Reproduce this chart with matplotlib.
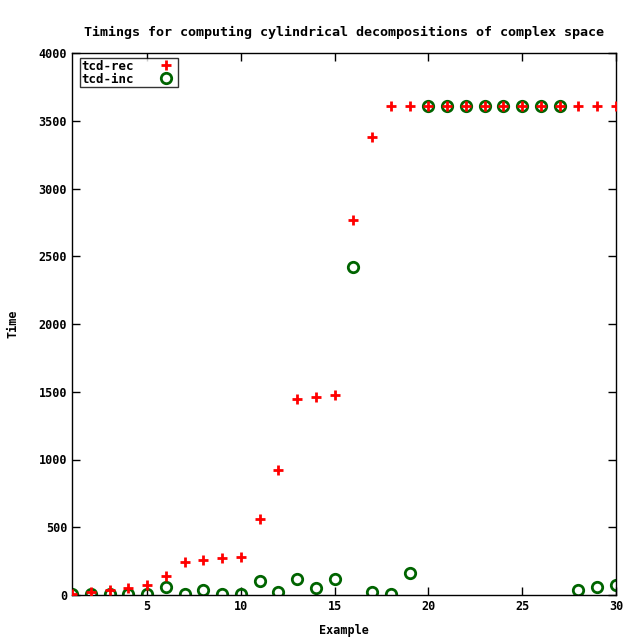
import numpy as np
import matplotlib.pyplot as plt

# timings
examples = list(range(1, 31))
tcd_rec = [5, 20, 35, 55, 75, 140, 240, 260, 270, 280,
           560, 920, 1450, 1460, 1475, 2770, 3380, 3610, 3610, 3610,
           3610, 3610, 3610, 3610, 3610, 3610, 3610, 3610, 3610, 3610]
tcd_inc = [5, 10, 5, 5, 5, 60, 10, 40, 10, 5,
           105, 20, 120, 50, 120, 2420, 20, 5, 160, 3610,
           3610, 3610, 3610, 3610, 3610, 3610, 3610, 40, 60, 75]

plt.rcParams['font.family'] = 'DejaVu Sans Mono'
plt.rcParams['font.weight'] = 'bold'
plt.rcParams['font.size'] = 8

fig = plt.figure(figsize=(6.32, 6.39), dpi=100)
ax = fig.add_axes([72 / 632, 1 - 595 / 639, 544 / 632, 542 / 639])

ax.plot(examples, tcd_rec, linestyle='none', marker='+', color='red',
        markersize=7, markeredgewidth=2, label='tcd-rec', zorder=3)
ax.plot(examples, tcd_inc, linestyle='none', marker='o', color='#006400',
        markerfacecolor='none', markersize=7.5, markeredgewidth=2,
        label='tcd-inc', zorder=2)

ax.set_xlim(1, 30)
ax.set_ylim(0, 4000)
ax.set_xticks([5, 10, 15, 20, 25, 30])
ax.set_yticks(np.arange(0, 4001, 500))
ax.tick_params(direction='in', top=True, right=True, length=6, width=1,
               labelsize=8.5)
for s in ax.spines.values():
    s.set_linewidth(1)

ax.set_xlabel('Example', fontweight='bold', fontsize=8.5, labelpad=8)
ax.set_ylabel('Time', fontweight='bold', fontsize=8.5, labelpad=14)
ax.set_title('Timings for computing cylindrical decompositions of complex space',
             fontweight='bold', pad=12)

leg = ax.legend(loc='upper left', bbox_to_anchor=(0.015, 0.99), frameon=True,
                fancybox=False, borderpad=0.1, handlelength=1.6,
                handletextpad=1.8, labelspacing=0.0, borderaxespad=0.0,
                markerfirst=False, edgecolor='black', fontsize=9)
leg.get_frame().set_linewidth(1)

fig.savefig('out.png', dpi=100)
